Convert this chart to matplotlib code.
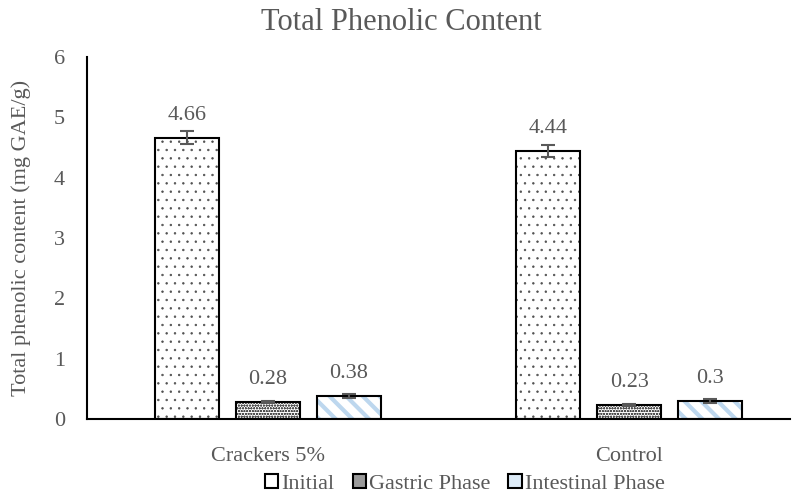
import numpy as np
import matplotlib.pyplot as plt
import matplotlib as mpl
from matplotlib.patches import Patch

categories = ["Crackers 5%", "Control"]
series = ["Initial", "Gastric Phase", "Intestinal Phase"]
initial = [4.66, 4.44]
gastric = [0.28, 0.23]
intestinal = [0.38, 0.30]
err_initial = [0.11, 0.10]
err_gastric = [0.02, 0.02]
err_intestinal = [0.03, 0.03]

plt.rcParams['font.family'] = ['Liberation Serif']
grey = '#595959'

fig = plt.figure(figsize=(8.02, 4.94), dpi=100)
ax = fig.add_axes([0.1085, 0.1518, 0.8765, 0.7328])

x = np.arange(len(categories))
w = 0.177
off = 0.224

# pattern fills + small swatch colour for the legend
styles = [
    dict(hatch='..', hcolor='#505050', hlw=0.5, swatch='white'),
    dict(hatch='oooooo', hcolor='#505050', hlw=0.6, swatch='#9a9a9a'),
    dict(hatch='\\\\', hcolor='#BDD7EE', hlw=3.0, swatch='#DDEBF7'),
]
vals = [initial, gastric, intestinal]
errs = [err_initial, err_gastric, err_intestinal]

handles = []
for i, (v, e, st) in enumerate(zip(vals, errs, styles)):
    pos = x + (i - 1) * off
    mpl.rcParams['hatch.linewidth'] = st['hlw']
    ax.bar(pos, v, w, color='white', edgecolor=st['hcolor'], hatch=st['hatch'], linewidth=0, zorder=2)
    ax.bar(pos, v, w, color='none', edgecolor='black', linewidth=1.5, zorder=3)
    ax.errorbar(pos, v, yerr=e, fmt='none', ecolor=grey, elinewidth=1.5, capsize=5, capthick=1.5, zorder=4)
    for p, val in zip(pos, v):
        ax.text(p, val + 0.22, f"{val:g}", ha='center', va='bottom', fontsize=16, color=grey)
    handles.append(Patch(facecolor=st['swatch'], edgecolor='black', linewidth=1.5, label=series[i]))

ax.set_ylim(0, 6)
ax.set_xlim(-0.5, 1.445)
ax.set_xticks(x)
ax.set_xticklabels(categories)
ax.set_yticks(range(0, 7))
ax.tick_params(axis='both', length=0, labelsize=16, colors=grey)
ax.tick_params(axis='x', pad=20)
ax.tick_params(axis='y', pad=16)
for s in ['top', 'right']:
    ax.spines[s].set_visible(False)
ax.spines['left'].set_linewidth(1.5)
ax.spines['bottom'].set_linewidth(1.5)
ax.set_ylabel("Total phenolic content (mg GAE/g)", fontsize=16, color=grey, labelpad=16)
fig.text(0.5, 1 - 22 / 494, "Total Phenolic Content", fontsize=22, color=grey, ha='center', va='center')

leg = fig.legend(handles=handles, loc='center', bbox_to_anchor=(465 / 802, 1 - 484 / 494), ncol=3,
                 frameon=False, fontsize=16, handlelength=0.6, handleheight=0.6,
                 handletextpad=0.15, columnspacing=0.8, labelcolor=grey, borderpad=0)

fig.savefig("out.png", dpi=100)
